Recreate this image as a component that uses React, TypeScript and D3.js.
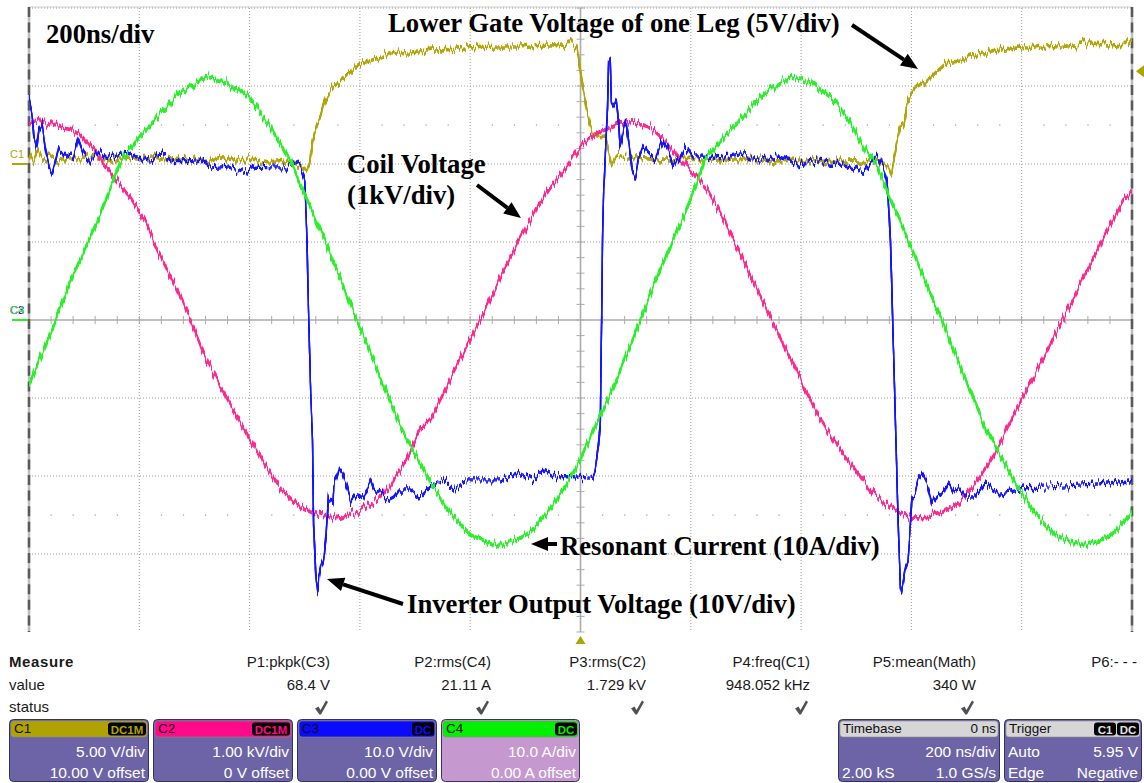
import React from "react";
import * as d3 from "d3";

type Pt = [number, number];

// Acquisition records: [time in ns relative to trigger, value in channel units]

// C1 – lower gate voltage of one leg (V)
const gateVoltage: Pt[] = [
  [-1000, 0.7], [-992, 0.2], [-985, 0.9], [-975, 0.3], [-960, 0.5], [-945, 0.1], [-930, 0.4],
  [-900, 0.3], [-880, 0.6], [-860, 0.2], [-830, 0.4], [-800, 0.3], [-770, 0.5], [-740, 0.2],
  [-710, 0.3], [-680, 0.1], [-650, 0.4], [-620, 0.2], [-590, 0.3], [-560, 0.1], [-530, 0.2],
  [-515, 0.0], [-505, -0.3], [-497, -0.5], [-491, 0.0], [-486, 1.5], [-479, 2.4], [-471, 3.0],
  [-463, 4.1], [-450, 4.9], [-427, 5.5], [-402, 6.4], [-366, 6.8], [-336, 7.2], [-310, 7.1],
  [-270, 7.3], [-230, 7.35], [-200, 7.45], [-150, 7.5], [-110, 7.5], [-80, 7.6], [-40, 7.65],
  [-18, 7.75], [-6, 7.4], [0, 5.95], [4, 4.9], [12, 3.3], [22, 1.9], [35, 1.75], [45, 1.8],
  [51, 0.7], [57, 0.0], [64, 0.5], [80, 0.5], [110, 0.35], [150, 0.25], [200, 0.3], [250, 0.2],
  [300, 0.3], [350, 0.2], [400, 0.25], [450, 0.15], [500, 0.2], [540, 0.1], [557, 0.0],
  [564, -0.5], [574, 1.5], [581, 2.6], [586, 2.4], [592, 3.9], [600, 4.55], [610, 4.9],
  [625, 5.2], [645, 5.9], [665, 6.5], [690, 6.6], [705, 6.9], [730, 7.05], [760, 7.3],
  [790, 7.5], [820, 7.4], [850, 7.6], [880, 7.55], [920, 7.75], [960, 7.7], [1000, 7.75],
];

// C2 – coil voltage (kV)
const coilVoltage: Pt[] = [
  [-1000, 2.53], [-978, 2.56], [-965, 2.5], [-951, 2.52], [-937, 2.46], [-924, 2.44],
  [-906, 2.37], [-888, 2.22], [-870, 2.05], [-842, 1.79], [-815, 1.56], [-788, 1.24],
  [-761, 0.81], [-734, 0.42], [-707, 0.0], [-679, -0.51], [-652, -0.86], [-621, -1.26],
  [-598, -1.54], [-570, -1.88], [-543, -2.18], [-507, -2.4], [-471, -2.5], [-435, -2.54],
  [-399, -2.44], [-362, -2.27], [-326, -1.92], [-308, -1.67], [-290, -1.41], [-272, -1.28],
  [-236, -0.76], [-199, -0.24], [-163, 0.28], [-136, 0.68], [-109, 1.06], [-78, 1.45],
  [-54, 1.71], [-31, 1.92], [-13, 2.09], [5, 2.27], [31, 2.4], [54, 2.47], [72, 2.54],
  [96, 2.54], [127, 2.47], [145, 2.35], [163, 2.22], [181, 2.05], [205, 1.88], [230, 1.67],
  [248, 1.45], [290, 0.85], [326, 0.31], [352, -0.08], [380, -0.49], [408, -0.9], [435, -1.28],
  [476, -1.71], [502, -1.96], [531, -2.22], [562, -2.4], [603, -2.54], [629, -2.53],
  [658, -2.46], [688, -2.33], [712, -2.14], [737, -1.88], [755, -1.67], [800, -1.02],
  [851, -0.32], [900, 0.37], [947, 1.03], [984, 1.54], [1000, 1.64],
];

// C3 – inverter output voltage (V)
const inverterVoltage: Pt[] = [
  [-1000, 28.6], [-995, 26.9], [-991, 23.5], [-986, 22.2], [-982, 24.4], [-976, 25.0],
  [-971, 22.2], [-964, 19.6], [-958, 18.8], [-951, 20.5], [-946, 22.1], [-938, 21.4],
  [-931, 20.8], [-920, 20.9], [-911, 23.3], [-902, 21.5], [-891, 20.5], [-873, 21.8],
  [-861, 20.8], [-837, 21.2], [-824, 21.4], [-806, 20.8], [-779, 20.5], [-761, 21.4],
  [-739, 20.3], [-707, 20.3], [-688, 20.5], [-670, 19.5], [-643, 19.7], [-607, 19.0],
  [-589, 19.6], [-562, 19.5], [-534, 19.5], [-522, 20.3], [-507, 19.6], [-500, 17.9],
  [-496, 10.3], [-493, 0.9], [-489, -9.9], [-486, -15.4], [-484, -26.0], [-480, -32.4],
  [-476, -35.1], [-475, -33.3], [-471, -31.7], [-466, -30.8], [-462, -28.2], [-458, -24.0],
  [-457, -22.7], [-449, -23.5], [-447, -20.9], [-440, -19.6], [-437, -19.0], [-431, -19.6],
  [-422, -21.8], [-417, -23.5], [-411, -22.7], [-402, -22.2], [-393, -22.7], [-380, -20.5],
  [-375, -21.8], [-362, -22.2], [-350, -23.1], [-339, -22.7], [-330, -21.8], [-308, -21.8],
  [-290, -22.7], [-272, -21.4], [-248, -20.5], [-230, -21.8], [-205, -20.5], [-176, -20.5],
  [-145, -20.5], [-109, -19.6], [-85, -20.5], [-67, -19.2], [-42, -20.1], [-13, -20.1],
  [22, -20.3], [27, -19.2], [33, -15.4], [36, -12.8], [40, 10.3], [42, 16.7], [49, 27.3],
  [51, 33.3], [54, 33.3], [56, 27.8], [60, 27.3], [65, 28.2], [69, 25.3], [72, 22.2],
  [78, 24.4], [82, 25.6], [87, 23.1], [94, 19.2], [100, 18.3], [105, 20.5], [114, 22.2],
  [123, 21.4], [136, 20.5], [149, 23.1], [158, 22.2], [168, 19.6], [181, 20.9], [190, 22.2],
  [203, 20.9], [217, 20.9], [254, 20.8], [290, 21.3], [326, 20.5], [360, 20.9], [399, 19.9],
  [430, 20.4], [453, 20.1], [476, 20.1], [495, 19.5], [513, 18.8], [525, 19.9], [538, 20.9],
  [549, 19.6], [556, 17.9], [558, 15.4], [562, 10.3], [572, -15.4], [576, -26.0],
  [580, -34.2], [582, -35.0], [585, -33.7], [589, -31.7], [594, -30.8], [598, -26.5],
  [601, -22.7], [607, -22.2], [612, -20.5], [620, -19.6], [629, -20.9], [638, -23.5],
  [647, -22.7], [658, -22.2], [667, -20.9], [676, -22.2], [688, -21.8], [701, -22.7],
  [716, -22.7], [734, -20.9], [748, -21.8], [761, -22.2], [806, -21.5], [851, -21.4],
  [897, -21.2], [942, -21.0], [1000, -20.6],
];

// C4 – resonant current (A)
const resonantCurrent: Pt[] = [
  [-1000, -8.3], [-951, 0], [-924, 5.1], [-870, 13.7], [-833, 20.5], [-799, 23.5],
  [-761, 26.5], [-725, 29.2], [-679, 31.2], [-643, 30.5], [-600, 28.6], [-562, 24.7],
  [-525, 20.3], [-498, 15.8], [-466, 10.6], [-408, 0.5], [-326, -13.7], [-303, -16.7],
  [-272, -20.9], [-236, -24.7], [-199, -27.6], [-163, -28.6], [-145, -28.8], [-114, -28.2],
  [-91, -27.2], [-60, -24.7], [-31, -21.8], [0, -17.9], [24, -14.1], [62, -8.3], [109, 0],
  [136, 5.1], [190, 13.7], [226, 20.5], [261, 23.5], [299, 26.5], [335, 29.2], [380, 31.2],
  [417, 30.5], [453, 28.6], [489, 25.3], [513, 22.2], [538, 19.6], [562, 15.4], [592, 10.6],
  [652, 0.5], [734, -13.7], [757, -16.7], [788, -20.9], [824, -24.7], [861, -27.6],
  [897, -28.6], [915, -28.8], [946, -28.2], [969, -27.2], [1000, -24.7],
];

// Vertical setup per channel
const channelIds = ["C1", "C2", "C3", "C4"];
const channelPerDiv = [5, 1, 10, 10];
const channelOffset = [10, 0, 0, 0];
const channelCoupling = ["DC1M", "DC1M", "DC", "DC"];
const channelScaleText = ["5.00 V/div", "1.00 kV/div", "10.0 V/div", "10.0 A/div"];
const channelOffsetText = ["10.00 V offset", "0 V offset", "0.00 V offset", "0.00 A offset"];
const traceColors = ["#b3a40a", "#ff2a90", "#1414ff", "#2cf02c"];
const traceWidths = [1.6, 1.8, 1.4, 2.0];
const tabColors = ["#b0a200", "#ff0a88", "#0a0aff", "#00f000"];

// Horizontal setup
const timeWindow: [number, number] = [-1000, 1000];
const nsPerDiv = 200;
const triggerLevel = 5.95;

// Measurement table
const measureHeaders = ["P1:pkpk(C3)", "P2:rms(C4)", "P3:rms(C2)", "P4:freq(C1)", "P5:mean(Math)", "P6:- - -"];
const measureValues = ["68.4 V", "21.11 A", "1.729 kV", "948.052 kHz", "340 W", ""];
const measureValid = [true, true, true, true, true, false];

// Annotations
const noteLabels = [
  "200ns/div",
  "Lower Gate Voltage of one Leg (5V/div)",
  "Coil Voltage",
  "(1kV/div)",
  "Resonant Current (10A/div)",
  "Inverter Output Voltage (10V/div)",
];

const W = 1144;
const H = 783;
const P = { left: 29, right: 1132, top: 8, bottom: 632 };
const SANS = "'Liberation Sans', Arial, Helvetica, sans-serif";
const SERIF = "'Liberation Serif', 'Times New Roman', serif";
const BOX_FILL = "#6c64a6";
const BOX_STROKE = "#34345a";
const NOISE_SEEDS = [11, 23, 37, 53];

function Arrow({ x1, y1, x2, y2 }: { x1: number; y1: number; x2: number; y2: number }) {
  const ang = Math.atan2(y2 - y1, x2 - x1);
  const len = 17;
  const half = 7;
  const bx = x2 - len * Math.cos(ang);
  const by = y2 - len * Math.sin(ang);
  const px = -Math.sin(ang) * half;
  const py = Math.cos(ang) * half;
  return (
    <g>
      <line x1={x1} y1={y1} x2={bx} y2={by} stroke="#000" strokeWidth={4} />
      <polygon points={`${x2},${y2} ${bx + px},${by + py} ${bx - px},${by - py}`} fill="#000" />
    </g>
  );
}

function Check({ x, y }: { x: number; y: number }) {
  return (
    <path
      d={`M${x},${y + 3.5} L${x + 3.5},${y + 1.5} L${x + 5.5},${y + 5} L${x + 11},${y - 4.5} L${x + 13},${y - 3} L${x + 6},${y + 9.5} L${x + 4.5},${y + 9.5} Z`}
      fill="#505050"
    />
  );
}

function Badge({ x, y, text, color }: { x: number; y: number; text: string; color: string }) {
  const w = text.length * 8 + 6;
  return (
    <g>
      <rect x={x - w} y={y} width={w} height={13} rx={3} fill="#000" />
      <text x={x - w / 2} y={y + 11} textAnchor="middle" fontFamily={SANS} fontWeight="bold" fontSize={11.5} fill={color}>
        {text}
      </text>
    </g>
  );
}

function InfoBox({
  x, w, tabFill, tabText, tabTextColor, badges, badgeColor, bodyFill, rows,
}: {
  x: number; w: number; tabFill: string; tabText: string; tabTextColor: string;
  badges: string[]; badgeColor: string; bodyFill: string;
  rows: { left?: string; right?: string }[];
}) {
  const top = 719;
  let bx = x + w - 3;
  return (
    <g fontFamily={SANS}>
      <rect x={x + 0.5} y={top + 0.5} width={w - 1} height={62} rx={4} fill={bodyFill} stroke={BOX_STROKE} />
      <rect x={x + 2} y={top + 2} width={w - 4} height={16} rx={3} fill={tabFill} stroke="#8a8a8a" strokeWidth={0.6} />
      <text x={x + 5} y={top + 14} fill={tabTextColor} fontSize={13.5}>{tabText}</text>
      {badges.map((b) => {
        const el = <Badge key={b} x={bx} y={top + 3.5} text={b} color={badgeColor} />;
        bx -= b.length * 8 + 6 + 1;
        return el;
      })}
      {rows.map((r, i) => (
        <g key={i} fontSize={15.5}>
          {r.left && (
            <text x={x + 4} y={top + 38 + i * 21} fill="#fff">{r.left}</text>
          )}
          {r.right && (
            <text x={x + w - 4} y={top + 38 + i * 21} fill="#fff" textAnchor="end">{r.right}</text>
          )}
        </g>
      ))}
    </g>
  );
}

export default function App() {
  const x = d3.scaleLinear().domain(timeWindow).range([P.left, P.right]);
  const div = d3.scaleLinear().domain([-4, 4]).range([P.bottom, P.top]);
  const yOf = (ch: number) => (v: number) => div((v + channelOffset[ch]) / channelPerDiv[ch]);

  const records = [gateVoltage, coilVoltage, inverterVoltage, resonantCurrent];
  const tracePaths = records.map((rec, ch) => {
    const y = yOf(ch);
    return d3
      .line<Pt>()
      .x((d) => x(d[0]))
      .y((d) => y(d[1]))(rec) as string;
  });

  const majorT = d3.range(timeWindow[0], timeWindow[1] + 1, nsPerDiv);
  const minorT = d3.range(timeWindow[0], timeWindow[1] + 1, nsPerDiv / 5);
  const majorD = d3.range(-4, 4.001, 1);
  const minorD = d3.range(-4, 4.001, 0.2);

  const cx = x(0);
  const cy = div(0);
  const trigY = yOf(0)(triggerLevel);

  const colRight = [330, 491, 646, 810, 976, 1137];

  return (
    <div style={{ position: "absolute", left: 0, top: 0, width: W, height: H, background: "#fff" }}>
      <svg width={W} height={H} viewBox={`0 0 ${W} ${H}`} style={{ display: "block" }}>
        <defs>
          <clipPath id="screen">
            <rect x={P.left} y={P.top - 4} width={P.right - P.left} height={P.bottom - P.top + 8} />
          </clipPath>
          {/* acquisition noise: column-wise vertical jitter, then a 1px vertical smear */}
          {NOISE_SEEDS.map((seed, i) => (
            <filter key={seed} id={`jitter${i}`} filterUnits="userSpaceOnUse" x={0} y={0} width={W} height={H}>
              <feTurbulence type="fractalNoise" baseFrequency="0.5 0.015" numOctaves={2} seed={seed} result="n" />
              <feColorMatrix
                in="n"
                type="matrix"
                values="0 0 0 0 0.5  0 1 0 0 0  0 0 0 0 0.5  0 0 0 0 1"
                result="m"
              />
              <feDisplacementMap in="SourceGraphic" in2="m" scale={15} xChannelSelector="R" yChannelSelector="G" result="d" />
              <feOffset in="d" dy={1} result="d1" />
              <feOffset in="d" dy={-1} result="d2" />
              <feMerge>
                <feMergeNode in="d1" />
                <feMergeNode in="d2" />
                <feMergeNode in="d" />
              </feMerge>
            </filter>
          ))}
        </defs>

        <rect x={0} y={0} width={W} height={H} fill="#fff" />

        {/* graticule */}
        <g>
          <line x1={P.left} x2={P.right} y1={P.top - 1} y2={P.top - 1} stroke="#cfcfcf" />
          {majorT.slice(1, -1).filter((t) => t !== 0).map((t) => (
            <line key={`v${t}`} x1={x(t)} x2={x(t)} y1={P.top} y2={P.bottom} stroke="#9c9c9c" strokeDasharray="1 2" />
          ))}
          {majorD.slice(1).filter((d) => d !== 0).map((d) => (
            <line key={`h${d}`} x1={P.left} x2={P.right} y1={div(d)} y2={div(d)} stroke="#9c9c9c" strokeDasharray="1 2" />
          ))}
          {[-2.5, 2.5].map((d) =>
            minorT.filter((t) => t % nsPerDiv !== 0).map((t) => (
              <rect key={`m${d}${t}`} x={x(t) - 0.5} y={div(d) - 0.5} width={1.2} height={1.2} fill="#9c9c9c" />
            ))
          )}
          {/* centre axes with fine ticks */}
          <line x1={P.left} x2={P.right} y1={cy} y2={cy} stroke="#ababab" strokeWidth={1.6} />
          <line x1={cx} x2={cx} y1={P.top} y2={P.bottom} stroke="#ababab" strokeWidth={1.6} />
          {minorT.map((t) => (
            <line key={`tx${t}`} x1={x(t)} x2={x(t)} y1={cy - 4} y2={cy + 4} stroke="#ababab" strokeWidth={1} />
          ))}
          {minorD.map((d) => (
            <line key={`ty${d}`} x1={cx - 4} x2={cx + 4} y1={div(d)} y2={div(d)} stroke="#ababab" strokeWidth={1} />
          ))}
          {/* side rails */}
          {[P.left, P.right].map((px) => (
            <g key={`rail${px}`}>
              <line x1={px} x2={px} y1={P.top - 1} y2={P.bottom} stroke="#bdbdbd" strokeWidth={2.5} />
              <line x1={px} x2={px} y1={P.top - 1} y2={P.bottom} stroke="#5a5a5a" strokeWidth={2.5} strokeDasharray="10 5.6" />
            </g>
          ))}
        </g>

        {/* traces */}
        <g clipPath="url(#screen)">
          <g fill="none" strokeLinejoin="round">
            {tracePaths.map((d, ch) => (
              <path
                key={channelIds[ch]}
                d={d}
                stroke={traceColors[ch]}
                strokeWidth={traceWidths[ch]}
                filter={`url(#jitter${ch})`}
              />
            ))}
          </g>
        </g>

        {/* channel ground markers */}
        <g fontFamily={SANS} fontSize={11}>
          <text x={10} y={yOf(0)(0) - 6} fill={traceColors[0]}>{channelIds[0]}</text>
          <line x1={12} x2={P.left - 1} y1={yOf(0)(0)} y2={yOf(0)(0)} stroke={traceColors[0]} strokeWidth={2} />
          {[1, 2, 3].map((ch) => (
            <text key={ch} x={10} y={yOf(ch)(0) - 6} fill={traceColors[ch]}>{channelIds[ch]}</text>
          ))}
          <line x1={12} x2={P.left - 1} y1={yOf(3)(0)} y2={yOf(3)(0)} stroke={traceColors[3]} strokeWidth={2} />
        </g>

        {/* trigger markers */}
        <polygon points={`${P.right + 4},${trigY} ${W},${trigY - 6} ${W},${trigY + 6}`} fill={tabColors[0]} />
        <polygon points={`${cx},${P.bottom + 4} ${cx - 5},${P.bottom + 12} ${cx + 5},${P.bottom + 12}`} fill={tabColors[0]} />

        {/* annotations */}
        <g fontFamily={SERIF} fontWeight="bold" fontSize={26.7} fill="#000">
          <text x={46} y={43}>{noteLabels[0]}</text>
          <text x={388} y={32}>{noteLabels[1]}</text>
          <text x={347} y={173}>{noteLabels[2]}</text>
          <text x={347} y={204}>{noteLabels[3]}</text>
          <text x={560} y={555}>{noteLabels[4]}</text>
          <text x={407} y={613}>{noteLabels[5]}</text>
        </g>
        <Arrow x1={852} y1={25} x2={918} y2={69} />
        <Arrow x1={477} y1={185} x2={521} y2={218} />
        <Arrow x1={557} y1={544} x2={531} y2={544} />
        <Arrow x1={403} y1={604} x2={327} y2={579} />

        {/* measurement table */}
        <g fontFamily={SANS} fontSize={15} fill="#1a1a1a">
          <text x={9} y={667} fontWeight="bold" letterSpacing={0.6}>Measure</text>
          <text x={9} y={690}>value</text>
          <text x={9} y={712}>status</text>
          {measureHeaders.map((h, i) => (
            <text key={h} x={colRight[i]} y={667} textAnchor="end">{h}</text>
          ))}
          {measureValues.map((v, i) => (
            <text key={`val${i}`} x={colRight[i]} y={690} textAnchor="end">{v}</text>
          ))}
        </g>
        {measureValid.map((ok, i) => (ok ? <Check key={`ck${i}`} x={colRight[i] - 15} y={705} /> : null))}

        {/* channel descriptors */}
        {channelIds.map((id, ch) => (
          <InfoBox
            key={id}
            x={9 + ch * 144}
            w={ch === 3 ? 139 : 140}
            tabFill={tabColors[ch]}
            tabText={id}
            tabTextColor="#111"
            badges={[channelCoupling[ch]]}
            badgeColor={tabColors[ch]}
            bodyFill={ch === 3 ? "#c598cf" : BOX_FILL}
            rows={[{ right: channelScaleText[ch] }, { right: channelOffsetText[ch] }]}
          />
        ))}
        <InfoBox
          x={838}
          w={162}
          tabFill="#d6d6d6"
          tabText="Timebase"
          tabTextColor="#111"
          badges={[]}
          badgeColor="#ddd"
          bodyFill={BOX_FILL}
          rows={[{ right: `${nsPerDiv} ns/div` }, { left: "2.00 kS", right: "1.0 GS/s" }]}
        />
        <text x={996} y={733} textAnchor="end" fontFamily={SANS} fontSize={13.5} fill="#111">0 ns</text>
        <InfoBox
          x={1004}
          w={138}
          tabFill="#d6d6d6"
          tabText="Trigger"
          tabTextColor="#111"
          badges={["DC", "C1"]}
          badgeColor="#e0e0e0"
          bodyFill={BOX_FILL}
          rows={[{ left: "Auto", right: `${triggerLevel.toFixed(2)} V` }, { left: "Edge", right: "Negative" }]}
        />
      </svg>
    </div>
  );
}
